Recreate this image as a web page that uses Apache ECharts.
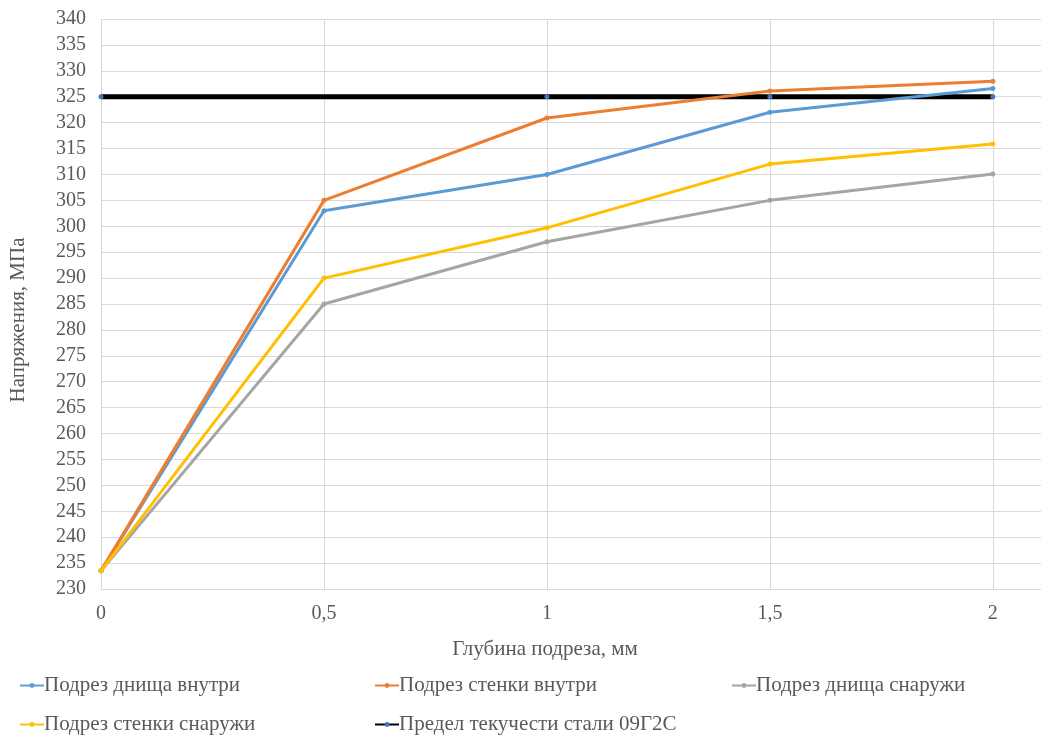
<!DOCTYPE html>
<html><head><meta charset="utf-8">
<script src="https://cdn.jsdelivr.net/npm/echarts@6/dist/echarts.min.js"></script>
<style>html,body{margin:0;padding:0;background:#fff}#c{width:1041px;height:738px}</style>
</head><body><div id="c"></div>
<script>
const depth = [0, 0.5, 1, 1.5, 2];
const bottomInside = [233.5, 303, 310, 322, 326.6];
const wallInside = [233.5, 305, 320.9, 326.1, 328];
const bottomOutside = [233.5, 285, 297, 305, 310.1];
const wallOutside = [233.5, 290, 299.7, 312, 315.9];
const limitX = [0, 1, 1.5, 2];
const limitY = [325, 325, 325, 325];
const names = ['Подрез днища внутри','Подрез стенки внутри','Подрез днища снаружи','Подрез стенки снаружи','Предел текучести стали 09Г2С'];
const colors = ['#5B9BD5','#ED7D31','#A5A5A5','#FFC000','#000000'];

const FONT = 'Liberation Serif';
const pair = (xs, ys) => xs.map((x, i) => [x, ys[i]]);
const mk = (i, data, w, symColor) => ({
  name: names[i], type: 'line', data, symbol: 'circle', symbolSize: 5,
  lineStyle: { color: colors[i], width: w },
  itemStyle: { color: symColor || colors[i] },
  z: i === 4 ? 1 : 2 + i,
  emphasis: { disabled: true }, animation: false
});
const legendPos = [[14, 670], [369, 670], [726, 670], [14, 709], [369, 709]];
const chart = echarts.init(document.getElementById('c'));
chart.setOption({
  animation: false,
  textStyle: { fontFamily: FONT },
  grid: { left: 101, right: 0, top: 19, bottom: 149, containLabel: false },
  xAxis: {
    type: 'value', min: 0, max: 2.108, interval: 0.5,
    name: 'Глубина подреза, мм', nameLocation: 'middle', nameGap: 50,
    nameTextStyle: { fontFamily: FONT, fontSize: 21, color: '#595959', padding: [0, 52, 0, 0] },
    axisLine: { show: true, lineStyle: { color: '#d9d9d9', width: 1 } },
    axisTick: { show: false },
    splitLine: { show: true, lineStyle: { color: '#d9d9d9', width: 1 } },
    axisLabel: { fontFamily: FONT, fontSize: 20, color: '#595959', margin: 15, showMaxLabel: false,
      formatter: v => String(v).replace('.', ',') }
  },
  yAxis: {
    type: 'value', min: 230, max: 340, interval: 5,
    name: 'Напряжения, МПа', nameLocation: 'middle', nameGap: 72, nameRotate: 90,
    nameTextStyle: { fontFamily: FONT, fontSize: 21, color: '#595959', padding: [0, 32, 0, 0] },
    axisLine: { show: false }, axisTick: { show: false },
    splitLine: { show: true, lineStyle: { color: '#d9d9d9', width: 1 } },
    axisLabel: { fontFamily: FONT, fontSize: 20, color: '#595959', margin: 15 }
  },
  legend: legendPos.map((p, i) => ({
    data: [names[i]], left: p[0], top: p[1], itemWidth: 24, itemHeight: 6, itemGap: 0,
    selectedMode: false,
    lineStyle: { width: 2 },
    textStyle: { fontFamily: FONT, fontSize: 21, color: '#595959', padding: [0, 0, 0, -5] }
  })),
  series: [
    mk(4, pair(limitX, limitY), 5, '#4472C4'),
    mk(0, pair(depth, bottomInside), 3),
    mk(1, pair(depth, wallInside), 3),
    mk(2, pair(depth, bottomOutside), 3),
    mk(3, pair(depth, wallOutside), 3)
  ]
});
</script></body></html>
